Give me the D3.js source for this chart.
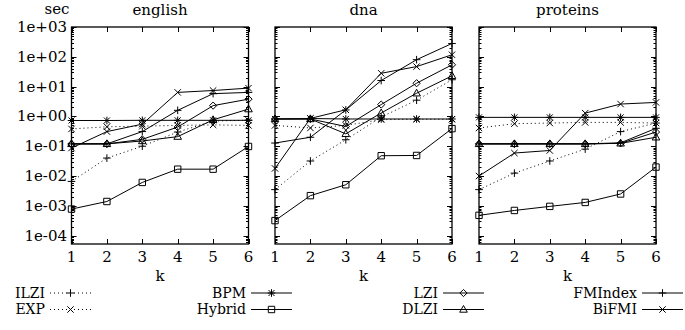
<!DOCTYPE html>
<html><head><meta charset="utf-8">
<script src="https://cdn.jsdelivr.net/npm/d3@7"></script>
<style>body{margin:0;background:#fff}svg{display:block}text{font-family:"DejaVu Serif",serif;fill:#000}</style>
</head><body>
<script>
const ks = [1, 2, 3, 4, 5, 6];
const datasets = ["english", "dna", "proteins"];
const yTickValues = [1e-4, 1e-3, 1e-2, 1e-1, 1e0, 1e1, 1e2, 1e3];
const yTickLabels = ["1e-04", "1e-03", "1e-02", "1e-01", "1e+00", "1e+01", "1e+02", "1e+03"];
const methods = ["ILZI", "EXP", "BPM", "Hybrid", "LZI", "DLZI", "FMIndex", "BiFMI"];

// values per dataset [english, dna, proteins], seconds for k = 1..6
const ILZI = [
  [0.0066, 0.04, 0.1, 0.3, 0.7, 0.75],
  [0.0035, 0.032, 0.165, 0.95, 3.5, 17],
  [0.0035, 0.0125, 0.032, 0.08, 0.31, 0.6]];
const EXP = [
  [0.38, 0.45, 0.47, 0.5, 0.52, 0.5],
  [0.5, 0.41, 0.5, 0.78, 0.8, 0.8],
  [0.41, 0.57, 0.6, 0.63, 0.63, 0.6]];
const BPM = [
  [0.73, 0.73, 0.74, 0.74, 0.74, 0.74],
  [0.82, 0.85, 0.82, 0.82, 0.82, 0.82],
  [0.93, 0.93, 0.93, 0.93, 0.93, 0.93]];
const Hybrid = [
  [0.00078, 0.0014, 0.0061, 0.017, 0.017, 0.098],
  [0.00032, 0.0022, 0.0051, 0.048, 0.049, 0.39],
  [0.00048, 0.0007, 0.00096, 0.0013, 0.0025, 0.02]];
const LZI = [
  [0.12, 0.12, 0.17, 0.44, 2.3, 3.8],
  [0.82, 0.82, 0.46, 2.5, 13, 54],
  [0.12, 0.12, 0.12, 0.12, 0.125, 0.3]];
const DLZI = [
  [0.12, 0.12, 0.15, 0.21, 0.77, 1.76],
  [0.82, 0.82, 0.26, 1.3, 6, 23],
  [0.12, 0.12, 0.12, 0.12, 0.125, 0.2]];
const FMIndex = [
  [0.12, 0.12, 0.31, 1.6, 5.8, 6.4],
  [0.128, 0.2, 1.65, 16, 80, 280],
  [0.12, 0.12, 0.12, 0.12, 0.13, 0.4]];
const BiFMI = [
  [0.087, 0.31, 0.55, 6.4, 7.4, 8.9],
  [0.018, 0.86, 1.67, 28, 47, 117],
  [0.010, 0.059, 0.072, 1.29, 2.6, 2.95]];

const seriesData = {ILZI, EXP, BPM, Hybrid, LZI, DLZI, FMIndex, BiFMI};
const styles = {
  ILZI: {dash: "1,3", marker: "plus"},
  EXP: {dash: "1,3", marker: "cross"},
  BPM: {dash: null, marker: "star"},
  Hybrid: {dash: null, marker: "square"},
  LZI: {dash: null, marker: "diamond"},
  DLZI: {dash: null, marker: "triangle"},
  FMIndex: {dash: null, marker: "plus"},
  BiFMI: {dash: null, marker: "cross"}
};
const markerPaths = {
  plus: "M-3.8,0H3.8M0,-3.8V3.8",
  cross: "M-3.2,-3.2L3.2,3.2M-3.2,3.2L3.2,-3.2",
  star: "M-3.8,0H3.8M0,-3.8V3.8M-3,-3L3,3M-3,3L3,-3",
  square: "M-3.2,-3.2H3.2V3.2H-3.2Z",
  diamond: "M0,-3.6L3.6,0L0,3.6L-3.6,0Z",
  triangle: "M0,-4L3.8,2.7H-3.8Z"
};

const W = 685, H = 330;
const svg = d3.select("body").append("svg").attr("width", W).attr("height", H);
const panelLefts = [71.5, 275, 479];
const panelW = 177;
const plotTop = 27, plotBottom = 244;
const y = d3.scaleLog().domain([Math.pow(10, -4.28), 1000]).range([plotBottom, plotTop]);

// minor ticks 2..9 per decade
const minorVals = [];
for (let e = -5; e < 3; e++) for (let m = 2; m <= 9; m++) {
  const v = m * Math.pow(10, e);
  if (v >= y.domain()[0] && v <= 1000) minorVals.push(v);
}

datasets.forEach((name, di) => {
  const L = panelLefts[di];
  const x = d3.scaleLinear().domain([1, 6]).range([L, L + panelW]);
  const g = svg.append("g");

  const tk = g.append("g").attr("stroke", "#000").attr("stroke-width", 1);
  yTickValues.forEach(v => {
    const yy = Math.round(y(v)) + 0.5;
    tk.append("line").attr("x1", L).attr("x2", L + 5).attr("y1", yy).attr("y2", yy);
    tk.append("line").attr("x1", L + panelW - 5).attr("x2", L + panelW).attr("y1", yy).attr("y2", yy);
  });
  minorVals.forEach(v => {
    const yy = Math.round(y(v)) + 0.5;
    tk.append("line").attr("x1", L).attr("x2", L + 2.5).attr("y1", yy).attr("y2", yy);
    tk.append("line").attr("x1", L + panelW - 2.5).attr("x2", L + panelW).attr("y1", yy).attr("y2", yy);
  });
  ks.forEach(k => {
    const xx = Math.round(x(k)) + 0.5;
    tk.append("line").attr("x1", xx).attr("x2", xx).attr("y1", plotTop).attr("y2", plotTop + 5);
    tk.append("line").attr("x1", xx).attr("x2", xx).attr("y1", plotBottom - 5).attr("y2", plotBottom);
  });

  g.selectAll(".xl").data(ks).enter().append("text")
    .attr("x", d => x(d)).attr("y", 262).attr("text-anchor", "middle")
    .attr("font-size", 15).text(d => d);
  g.append("text").attr("x", L + panelW / 2).attr("y", 281).attr("text-anchor", "middle")
    .attr("font-size", 15).text("k");
  g.append("text").attr("x", L + panelW / 2).attr("y", 15).attr("text-anchor", "middle")
    .attr("font-size", 15).text(name);

  if (di === 0) {
    yTickValues.forEach((v, i) => {
      g.append("text").attr("x", 67).attr("y", y(v) + 5).attr("text-anchor", "end")
        .attr("font-size", 15).text(yTickLabels[i]);
    });
    g.append("text").attr("x", 57).attr("y", 13.5).attr("text-anchor", "middle")
      .attr("font-size", 15).text("sec");
  }

  const line = d3.line().x((d, i) => x(ks[i])).y(d => y(d));
  methods.forEach(m => {
    const vals = seriesData[m][di];
    const st = styles[m];
    g.append("path").attr("d", line(vals)).attr("fill", "none").attr("stroke", "#000")
      .attr("stroke-width", 1).attr("stroke-dasharray", st.dash);
    g.selectAll(null).data(vals).enter().append("path")
      .attr("transform", (d, i) => `translate(${x(ks[i])},${y(d)})`)
      .attr("d", markerPaths[st.marker]).attr("fill", "none").attr("stroke", "#000").attr("stroke-width", 1);
  });

  g.append("rect").attr("x", L).attr("y", plotTop).attr("width", panelW).attr("height", plotBottom - plotTop)
    .attr("fill", "none").attr("stroke", "#000").attr("stroke-width", 1.3);
});

const legendCols = [45, 246, 438, 637];
const legendRows = [297.5, 314];
methods.forEach((m, i) => {
  const c = Math.floor(i / 2), r = i % 2;
  const tx = legendCols[c], ty = legendRows[r];
  const lg = svg.append("g");
  lg.append("text").attr("x", tx).attr("y", ty).attr("text-anchor", "end").attr("font-size", 14).text(m);
  const ly = ty - 4.5;
  lg.append("line").attr("x1", tx + 5).attr("x2", tx + 46).attr("y1", ly).attr("y2", ly)
    .attr("stroke", "#000").attr("stroke-width", 1).attr("stroke-dasharray", styles[m].dash);
  lg.append("path").attr("transform", `translate(${tx + 25.5},${ly})`).attr("d", markerPaths[styles[m].marker])
    .attr("fill", "none").attr("stroke", "#000").attr("stroke-width", 1);
});
</script>
</body></html>
